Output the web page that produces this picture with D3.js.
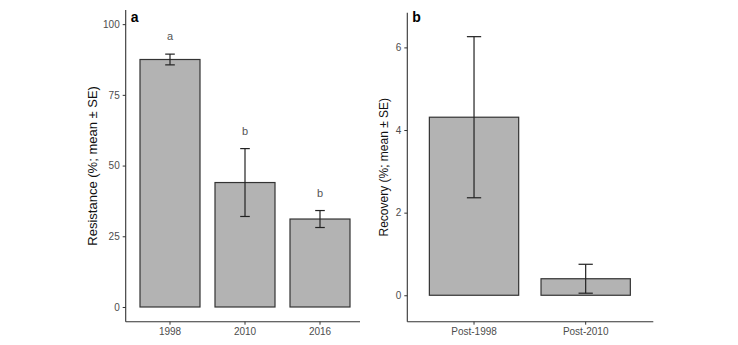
<!DOCTYPE html>
<html><head><meta charset="utf-8">
<script src="https://cdn.jsdelivr.net/npm/d3@7"></script>
<style>body{margin:0;background:#fff;} svg{display:block;font-family:"Liberation Sans",Arial,sans-serif;}</style>
</head><body>
<svg id="c" width="738" height="345"></svg>
<script>
const catsA = ["1998", "2010", "2016"];
const meanA = [87.5, 44.0, 31.1];
const seA = [1.9, 12.0, 3.0];
const lettersA = ["a", "b", "b"];
const ticksA = [0, 25, 50, 75, 100];

const catsB = ["Post-1998", "Post-2010"];
const meanB = [4.31, 0.40];
const seB = [1.95, 0.35];
const ticksB = [0, 2, 4, 6];

const svg = d3.select("#c");
const fill = "#b3b3b3", stroke = "#333333", axisCol = "#333333", tickTxt = "#4d4d4d";

function panel(o) {
  const g = svg.append("g");
  const x = d3.scaleBand().domain(o.cats).range(o.xr).paddingInner(0.2).paddingOuter(0.1);
  const y = d3.scaleLinear().domain(o.yd).range([o.yb, o.yt]);
  // bars
  g.selectAll("rect.bar").data(o.cats).enter().append("rect")
    .attr("x", d => x(d)).attr("width", x.bandwidth())
    .attr("y", (d, i) => y(o.mean[i])).attr("height", (d, i) => y(0) - y(o.mean[i]))
    .attr("fill", fill).attr("stroke", stroke).attr("stroke-width", 1.2);
  // error bars
  const cw = x.bandwidth() * 0.16;
  o.cats.forEach((d, i) => {
    const cx = x(d) + x.bandwidth() / 2;
    const hi = y(o.mean[i] + o.se[i]), lo = y(o.mean[i] - o.se[i]);
    const eb = g.append("g").attr("stroke", "#222").attr("stroke-width", 1.2);
    eb.append("line").attr("x1", cx).attr("x2", cx).attr("y1", hi).attr("y2", lo);
    eb.append("line").attr("x1", cx - cw / 2).attr("x2", cx + cw / 2).attr("y1", hi).attr("y2", hi);
    eb.append("line").attr("x1", cx - cw / 2).attr("x2", cx + cw / 2).attr("y1", lo).attr("y2", lo);
    if (o.letters) {
      g.append("text").attr("x", cx).attr("y", hi - 14).attr("text-anchor", "middle")
        .attr("font-size", 11).attr("fill", "#555").text(o.letters[i]);
    }
  });
  // axes
  g.append("line").attr("x1", o.ax0).attr("x2", o.ax0).attr("y1", o.yt).attr("y2", o.yb)
    .attr("stroke", axisCol).attr("stroke-width", 1.1);
  g.append("line").attr("x1", o.ax0).attr("x2", o.ax1).attr("y1", o.yb).attr("y2", o.yb)
    .attr("stroke", axisCol).attr("stroke-width", 1.1);
  const yAx = d3.axisLeft(y).tickValues(o.ticks).tickSize(3).tickPadding(3);
  const ya = g.append("g").attr("transform", `translate(${o.ax0},0)`).call(yAx);
  ya.select(".domain").remove();
  ya.selectAll("line").attr("stroke", axisCol);
  ya.selectAll("text").attr("font-size", 10).attr("fill", tickTxt).attr("font-family", "Liberation Sans, Arial, sans-serif");
  const xAx = d3.axisBottom(x).tickSize(3).tickPadding(3);
  const xa = g.append("g").attr("transform", `translate(0,${o.yb})`).call(xAx);
  xa.select(".domain").remove();
  xa.selectAll("line").attr("stroke", axisCol);
  xa.selectAll("text").attr("font-size", 10).attr("fill", tickTxt).attr("font-family", "Liberation Sans, Arial, sans-serif");
  // titles
  g.append("text").attr("transform", `translate(${o.titleX},${(o.yt + o.yb) / 2}) rotate(-90)`)
    .attr("text-anchor", "middle").attr("dominant-baseline", "middle")
    .attr("font-size", o.titleSize).attr("fill", "#111").text(o.title);
  g.append("text").attr("x", o.ax0 + 5).attr("y", 22).attr("font-size", 14).attr("font-weight", "bold")
    .attr("fill", "#000").text(o.tag);
}

panel({cats: catsA, mean: meanA, se: seA, letters: lettersA, ticks: ticksA,
  xr: [132.5, 357.5], yd: [-5.2, 105], yb: 321.7, yt: 10, ax0: 125.7, ax1: 360,
  title: "Resistance (%; mean \u00b1 SE)", titleX: 94, titleSize: 13, tag: "a"});

panel({cats: catsB, mean: meanB, se: seB, letters: null, ticks: ticksB,
  xr: [418.2, 641.5], yd: [-0.64, 6.84], yb: 321.7, yt: 12.7, ax0: 407.3, ax1: 653.3,
  title: "Recovery (%; mean \u00b1 SE)", titleX: 385, titleSize: 12, tag: "b"});
</script>
</body></html>
